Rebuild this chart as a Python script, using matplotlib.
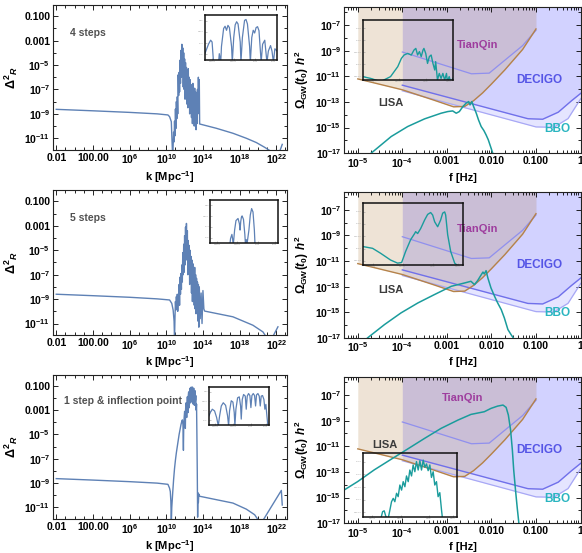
import numpy as np
import matplotlib.pyplot as plt
from matplotlib import ticker

plt.rcParams['font.family'] = ['Liberation Sans', 'DejaVu Sans']
plt.rcParams['mathtext.fontset'] = 'custom'
plt.rcParams['mathtext.rm'] = 'Liberation Sans:bold'
plt.rcParams['mathtext.bf'] = 'Liberation Sans:bold'
plt.rcParams['mathtext.it'] = 'Liberation Sans:bold:italic'
plt.rcParams['mathtext.default'] = 'rm'

BLUE = '#5E81B5'
TEAL = '#1A9C9C'

# ---------------- power spectra (log10 k, log10 P) ----------------
k1_log = [-2, 2, 6, 9, 10.18, 10.36, 10.55, 10.62, 10.70,
          10.80, 10.85, 10.90, 10.95, 11.00, 11.05, 11.10, 11.15, 11.20, 11.25,
          11.30, 11.35, 11.40, 11.45, 11.50, 11.55, 11.60, 11.65, 11.70, 11.75,
          11.80, 11.85, 11.90, 11.95, 12.00, 12.05, 12.10, 12.15, 12.20, 12.25,
          12.30, 12.35, 12.40, 12.45, 12.50, 12.55, 12.60, 12.65, 12.70, 12.75,
          12.80, 12.85, 12.90, 12.95, 13.00, 13.05, 13.10, 13.15, 13.20, 13.25,
          13.30, 13.35, 13.40, 13.45, 13.50, 13.55, 13.60, 13.64,
          15.45, 17.27, 18.73, 19.82, 20.73, 21.27, 21.5, 22.2, 22.36, 22.65]
P1_log = [-8.63, -8.75, -8.88, -9.0, -9.09, -9.23, -9.64, -11.1, -12.6,
          -10.5, -11.3, -9.6, -10.8, -8.6, -10.2, -8.0, -9.4, -7.6, -9.0,
          -5.8, -7.5, -5.6, -7.2, -4.6, -6.5, -3.8, -6.0, -3.3, -5.5,
          -3.6, -6.8, -4.0, -7.0, -4.5, -7.8, -4.8, -7.5, -5.2, -8.2,
          -5.5, -8.5, -5.3, -8.0, -6.0, -9.0, -6.2, -8.7, -6.6, -9.3,
          -6.8, -9.8, -6.5, -9.2, -7.0, -10.0, -6.9, -9.5, -7.2, -10.3,
          -7.5, -9.8, -7.0, -9.0, -6.0, -8.5, -6.2, -9.83,
          -10.18, -10.59, -11.0, -11.35, -11.74, -12.0, -13.0, -13.0, -12.1, -11.5]

k2_log = [-2, 2, 6, 9, 10.36, 10.6, 10.75, 10.85, 10.9,
          10.95, 11.0, 11.05, 11.1, 11.15, 11.2, 11.25, 11.3, 11.35, 11.4,
          11.45, 11.5, 11.55, 11.6, 11.65, 11.7, 11.75, 11.8, 11.85, 11.9,
          11.95, 12.0, 12.05, 12.1, 12.15, 12.2, 12.25, 12.3, 12.35, 12.4,
          12.45, 12.5, 12.55, 12.6, 12.65, 12.7, 12.75, 12.8, 12.85, 12.9,
          12.95, 13.0, 13.05, 13.1, 13.15, 13.2, 13.25, 13.3, 13.35, 13.4,
          13.45, 13.5, 13.55, 13.6, 13.7, 13.8, 13.9, 14.0, 14.1, 14.18,
          17.27, 19.45, 20.55, 20.9, 21.2, 21.5, 21.7, 22.18]
P2_log = [-8.6, -8.72, -8.85, -8.98, -9.07, -9.35, -9.9, -10.8, -12.3,
          -10.5, -9.2, -9.9, -8.8, -9.6, -8.6, -10.0, -8.9, -9.3, -7.8,
          -9.5, -7.2, -8.6, -6.9, -8.2, -6.2, -7.6, -5.2, -7.0, -4.5,
          -6.8, -3.8, -6.2, -3.1, -5.5, -2.8, -5.8, -3.4, -7.0, -4.2,
          -6.5, -4.6, -7.8, -5.0, -7.5, -5.5, -8.5, -5.8, -9.2, -6.1,
          -8.8, -6.6, -9.5, -6.4, -9.8, -7.0, -10.2, -7.3, -9.9, -7.6,
          -10.8, -7.8, -11.3, -8.0, -10.6, -8.5, -11.0, -8.3, -9.8, -9.98,
          -10.45, -11.14, -11.69, -12.1, -13.0, -13.0, -11.96, -11.27]

k3_log = [-2, 2, 6, 9, 10.18, 10.35, 10.44, 10.50, 10.55, 10.60, 10.70,
          10.80, 10.90, 11.00, 11.10, 11.20, 11.30, 11.40, 11.50, 11.60, 11.70,
          11.76, 11.82, 11.87, 11.90, 11.95, 12.00, 12.05, 12.08, 12.11, 12.15,
          12.20, 12.23, 12.26, 12.30, 12.34, 12.37, 12.40, 12.44, 12.48, 12.51,
          12.54, 12.58, 12.62, 12.65, 12.68, 12.72, 12.76, 12.79, 12.82, 12.86,
          12.90, 12.93, 12.96, 13.00, 13.04, 13.07, 13.10, 13.14, 13.18, 13.22,
          13.26, 13.30, 13.34, 13.38, 13.42, 13.46, 13.50, 13.55, 13.64,
          15.45, 17.27, 18.73, 19.64, 20.18, 20.4, 20.6, 22.55, 22.65]
P3_log = [-8.63, -8.75, -8.88, -9.0, -9.1, -9.4, -9.7, -10.5, -12.3, -11.0, -9.8,
          -8.7, -7.8, -7.1, -6.5, -6.0, -5.5, -5.0, -4.6, -4.2, -3.9,
          -3.8, -4.2, -6.3, -4.5, -3.6, -3.1, -3.4, -4.5, -2.9, -2.4,
          -2.6, -3.6, -2.2, -1.9, -2.2, -3.2, -1.8, -1.5, -2.0, -2.8,
          -1.5, -1.2, -1.6, -2.4, -1.3, -1.1, -1.5, -2.3, -1.3, -1.1,
          -1.6, -2.5, -1.4, -1.2, -1.7, -2.6, -1.5, -1.4, -2.2, -1.8,
          -3.0, -2.5, -5.0, -8.0, -11.8, -9.8, -10.6, -9.9, -10.08,
          -10.36, -10.64, -11.14, -11.6, -12.2, -13.0, -12.0, -9.6, -10.8]

# zoomed views of the peaks (insets)
i1_k_log = [12.00, 12.05, 12.08, 12.10, 12.12, 12.19, 12.20, 12.22, 12.23, 12.26,
            12.28, 12.30, 12.32, 12.34, 12.37, 12.38, 12.40, 12.42, 12.44, 12.46,
            12.49, 12.50, 12.52, 12.55, 12.57, 12.59, 12.62, 12.63, 12.65, 12.67,
            12.69, 12.71, 12.73, 12.75, 12.78, 12.80, 12.83, 12.86, 12.88, 12.91,
            12.93, 12.95, 12.97, 13.00]
i1_P_log = [-4.44, -3.60, -3.24, -3.40, -5.2, -5.2, -4.44, -5.2, -3.80, -2.20,
            -2.00, -2.36, -1.92, -2.12, -3.80, -5.2, -3.00, -1.88, -1.60, -1.80,
            -3.40, -5.2, -3.00, -1.48, -1.40, -1.80, -3.80, -5.2, -3.00, -2.36,
            -2.60, -2.12, -2.04, -2.40, -5.2, -3.60, -3.24, -5.2, -4.20, -3.72,
            -4.20, -5.2, -4.00, -4.20]

i2_k_log = [12.00, 12.29, 12.30, 12.32, 12.33, 12.34, 12.36, 12.38, 12.41, 12.43,
            12.44, 12.45, 12.46, 12.47, 12.49, 12.51, 12.52, 12.53, 12.54, 12.57,
            12.59, 12.61, 12.63, 12.65, 12.66, 13.00]
i2_P_log = [-5.2, -5.2, -4.60, -4.20, -4.60, -5.2, -3.80, -2.92, -2.72, -3.20,
            -3.80, -3.00, -2.60, -2.48, -2.80, -4.20, -5.2, -4.68, -5.2, -3.80,
            -2.40, -1.80, -2.12, -3.80, -5.2, -5.2]

i3_k_log = [12.000, 12.028, 12.056, 12.094, 12.128, 12.156, 12.178, 12.206, 12.239, 12.278,
            12.311, 12.328, 12.344, 12.372, 12.400, 12.422, 12.433, 12.450, 12.478, 12.506,
            12.528, 12.539, 12.556, 12.578, 12.606, 12.622, 12.639, 12.661, 12.683, 12.700,
            12.717, 12.739, 12.761, 12.778, 12.794, 12.817, 12.839, 12.856, 12.872, 12.894,
            12.917, 12.933, 12.950, 12.967, 12.983]
i3_P_log = [-4.04, -3.62, -3.34, -3.52, -4.21, -5.08, -4.04, -3.00, -2.66, -2.93,
            -4.04, -5.08, -3.52, -2.45, -2.59, -3.69, -5.08, -3.34, -2.14, -2.04,
            -3.00, -4.38, -2.31, -1.79, -1.96, -3.34, -1.96, -1.69, -1.90, -3.17,
            -1.90, -1.69, -1.90, -3.00, -1.83, -1.69, -1.96, -3.00, -1.96, -1.90,
            -2.31, -3.34, -2.83, -4.04, -5.08]

# ---------------- gravitational waves (log10 f, log10 Omega h^2) ----------------
gw1_f_log = [-4.70, -4.25, -3.88, -3.50, -3.13, -2.98, -2.87, -2.79, -2.72, -2.64,
             -2.57, -2.51, -2.48, -2.44, -2.40, -2.34, -2.29, -2.23, -2.17, -2.12,
             -2.07, -2.02, -1.97]
gw1_O_log = [-17.0, -15.70, -14.92, -14.32, -13.88, -13.75, -13.70, -13.88, -13.75, -13.36,
             -13.10, -12.97, -13.23, -12.97, -13.36, -13.88, -14.40, -14.92, -15.23, -15.57,
             -15.96, -16.48, -17.0]

gw2_f_log = [-4.78, -4.40, -4.03, -3.65, -3.28, -2.90, -2.60, -2.46, -2.38, -2.31,
             -2.25, -2.19, -2.16, -2.12, -2.08, -2.01, -1.93, -1.86, -1.78, -1.71,
             -1.63, -1.56, -1.50]
gw2_O_log = [-17.0, -15.96, -15.05, -14.27, -13.62, -12.97, -12.71, -12.58, -12.84, -12.53,
             -12.19, -11.86, -12.01, -11.75, -12.32, -13.10, -13.75, -14.27, -14.79, -15.44,
             -16.35, -16.74, -17.05]

gw3_f_log = [-5.30, -5.00, -4.63, -4.25, -3.88, -3.50, -3.13, -2.75, -2.46, -2.16,
             -2.01, -1.86, -1.74, -1.67, -1.62, -1.57, -1.53, -1.50, -1.46, -1.42, -1.38]
gw3_O_log = [-14.40, -13.75, -12.84, -12.01, -11.21, -10.38, -9.60, -8.95, -8.51, -8.30,
             -8.04, -7.86, -7.78, -7.96, -8.56, -9.73, -11.29, -12.84, -14.40, -15.83, -17.13]

# inset views of the GW peaks
g1_f_log = [-3.00, -2.91, -2.80, -2.69, -2.61, -2.57, -2.54, -2.50, -2.46, -2.43,
            -2.41, -2.39, -2.37, -2.35, -2.33, -2.32, -2.30, -2.28, -2.26, -2.24,
            -2.22, -2.20, -2.19, -2.17, -2.15, -2.13, -2.11, -2.09, -2.07, -2.06,
            -2.04, -2.02, -2.00]
g1_O_log = [-13.83, -13.92, -14.08, -13.83, -13.33, -12.92, -12.75, -12.67, -12.75, -12.50,
            -12.42, -12.75, -12.58, -12.83, -12.50, -12.42, -12.67, -13.17, -12.83, -12.75,
            -13.17, -13.50, -13.08, -14.00, -13.67, -13.92, -13.67, -14.00, -13.67, -14.08,
            -13.83, -14.17, -13.92]

g2_f_log = [-3.00, -2.90, -2.82, -2.72, -2.65, -2.61, -2.57, -2.52, -2.48, -2.47,
            -2.45, -2.42, -2.38, -2.35, -2.32, -2.30, -2.28, -2.25, -2.22, -2.20,
            -2.18, -2.17, -2.15, -2.12, -2.08, -2.05]
g2_O_log = [-13.10, -13.19, -13.43, -13.76, -13.91, -13.88, -13.34, -12.77, -12.47, -12.38,
            -12.47, -12.23, -11.81, -11.54, -11.45, -11.57, -11.90, -12.14, -11.81, -11.48,
            -11.42, -11.57, -12.53, -13.34, -13.91, -14.03]

g3_f_log = [-2.807, -2.789, -2.772, -2.754, -2.730, -2.712, -2.695, -2.677, -2.660, -2.642,
            -2.625, -2.607, -2.589, -2.572, -2.554, -2.537, -2.519, -2.502, -2.484, -2.467,
            -2.449, -2.432, -2.414, -2.396, -2.379, -2.361, -2.344, -2.326, -2.309, -2.291,
            -2.274, -2.256, -2.239, -2.221, -2.204, -2.186, -2.168, -2.158]
g3_O_log = [-14.08, -13.76, -13.72, -14.00, -14.08, -13.68, -13.29, -13.13, -13.29, -12.89,
            -13.05, -12.50, -12.74, -12.34, -12.58, -12.07, -12.34, -11.79, -12.07, -11.55,
            -11.87, -11.39, -11.79, -11.35, -11.79, -11.32, -11.66, -11.50, -11.82, -11.55,
            -12.14, -11.87, -12.50, -12.34, -13.05, -12.86, -13.68, -14.08]

# detector sensitivity curves (log10 f, log10 Omega h^2)
lisa_f = [-5.0, -4.0, -3.3, -2.85, -2.6, -2.4, -2.2, -2.0, -1.7, -1.3, -1.0]
lisa_O = [-11.2, -12.05, -12.85, -13.38, -13.35, -12.9, -12.3, -11.6, -10.5, -8.9, -7.3]
tq_f = [-4.0, -2.45, -2.05, -1.65, -1.3, -1.0]
tq_O = [-9.1, -10.8, -10.75, -9.6, -8.6, -7.4]
decigo_f = [-4.0, -1.18, -0.85, -0.5, -0.2, 0.05]
decigo_O = [-11.69, -14.31, -14.35, -13.8, -12.9, -12.2]
bbo_f = [-4.0, -1.0, -0.6, -0.28, 0.0, 0.05]
bbo_O = [-12.13, -14.95, -14.98, -14.3, -12.77, -12.6]

k_ticks = [-2, 2, 6, 10, 14, 18, 22]
k_labels = ['0.01', '100.00', '$10^{6}$', '$10^{10}$', '$10^{14}$', '$10^{18}$', '$10^{22}$']
p_ticks = [-1, -3, -5, -7, -9, -11]
p_labels = ['0.100', '0.001', '$10^{-5}$', '$10^{-7}$', '$10^{-9}$', '$10^{-11}$']
f_ticks = [-5, -4, -3, -2, -1, 0]
f_labels = ['$10^{-5}$', '$10^{-4}$', '0.001', '0.010', '0.100', '1']
o_ticks = [-7, -9, -11, -13, -15, -17]
o_labels = ['$10^{-7}$', '$10^{-9}$', '$10^{-11}$', '$10^{-13}$', '$10^{-15}$', '$10^{-17}$']

# tiny inset tick labels
ik_ticks = [12.1, 12.4, 12.7, 12.95]
ik_labels = ['1.2e12', '2.5e12', '5e12', '9e12']
ip_ticks = [-4.5, -3.5, -2.5, -1.5]
ip_labels = ['3e-5', '3e-4', '0.003', '0.03']
if_ticks = [-2.9, -2.6, -2.3, -2.05]
if_labels = ['0.0013', '0.0025', '0.005', '0.009']
io_ticks = [-13.8, -13.2, -12.6, -12.0, -11.4]
io_labels = ['1.6e-14', '6e-14', '2.5e-13', '1e-12', '4e-12']

spectra = [(k1_log, P1_log, '4 steps', -0.55, -2.34),
           (k2_log, P2_log, '5 steps', -0.55, -2.32),
           (k3_log, P3_log, '1 step & inflection point', -1.16, -2.26)]
spec_insets = [(i1_k_log, i1_P_log), (i2_k_log, i2_P_log), (i3_k_log, i3_P_log)]
gw = [(gw1_f_log, gw1_O_log), (gw2_f_log, gw2_O_log), (gw3_f_log, gw3_O_log)]
gw_insets = [(g1_f_log, g1_O_log), (g2_f_log, g2_O_log), (g3_f_log, g3_O_log)]
# label positions (log10 f, log10 Omega) for TianQin / LISA per row
tq_lab = [(-2.31, -8.54), (-2.31, -8.5), (-2.64, -7.26)]
lisa_lab = [(-4.25, -13.08), (-4.25, -13.23), (-4.40, -10.9)]

left_pos = [(0.091, 0.729, 0.402, 0.262), (0.091, 0.394, 0.402, 0.262), (0.091, 0.0615, 0.402, 0.261)]
right_pos = [(0.591, 0.723, 0.408, 0.264), (0.591, 0.389, 0.408, 0.264), (0.591, 0.054, 0.408, 0.264)]
left_in = [(0.352, 0.8915, 0.124, 0.0814), (0.361, 0.5606, 0.117, 0.0778), (0.359, 0.2315, 0.103, 0.0687)]
right_in = [(0.623, 0.8553, 0.155, 0.1085), (0.623, 0.5208, 0.172, 0.1116), (0.623, 0.0656, 0.163, 0.1146)]

p = lambda a: 10.0 ** np.asarray(a)


def frame(ax, lw=0.8):
    for s in ax.spines.values():
        s.set_linewidth(lw)
        s.set_color('#222222')
    ax.tick_params(which='both', direction='in', top=True, right=True, width=0.6)
    ax.tick_params(which='major', length=3.5, labelsize=7.5, pad=2)
    ax.tick_params(which='minor', length=2)


def inset_style(ax, xt, xl, yt, yl):
    ax.set_facecolor('none')
    ax.set_xticks(p(xt), xl)
    ax.set_yticks(p(yt), yl)
    ax.xaxis.set_minor_locator(ticker.NullLocator())
    ax.yaxis.set_minor_locator(ticker.NullLocator())
    for s in ax.spines.values():
        s.set_linewidth(1.1)
        s.set_color('#111111')
    ax.tick_params(which='both', direction='in', length=1.2, width=0.4,
                   labelsize=1.6, colors='#999999', pad=0.8)


fig = plt.figure(figsize=(5.82, 5.53), dpi=100)

for row in range(3):
    # ---- left: power spectrum ----
    kl, pl, txt, tx, ty = spectra[row]
    ax = fig.add_axes(left_pos[row])
    ax.plot(p(kl), p(pl), color=BLUE, lw=1.0)
    ax.set_xscale('log')
    ax.set_yscale('log')
    ax.set_xlim(10 ** -2.36, 10 ** 23.16)
    ax.set_ylim(10 ** -11.95, 10 ** -0.08)
    ax.set_xticks(p(k_ticks), k_labels, fontweight='bold')
    ax.set_yticks(p(p_ticks), p_labels, fontweight='bold')
    ax.xaxis.set_minor_locator(ticker.LogLocator(base=10, subs=(1.0,), numticks=60))
    ax.yaxis.set_minor_locator(ticker.LogLocator(base=10, subs=(1.0,), numticks=30))
    ax.xaxis.set_minor_formatter(ticker.NullFormatter())
    ax.yaxis.set_minor_formatter(ticker.NullFormatter())
    frame(ax)
    ax.set_xlabel('k [Mpc$^{-1}$]', fontsize=8, fontweight='bold', labelpad=2)
    ax.set_ylabel(r'$\Delta^{2}{}_{\mathit{R}}$', fontsize=9, labelpad=3)
    ax.text(10 ** tx, 10 ** ty, txt, fontsize=7.5, fontweight='bold', color='#505050',
            ha='left', va='center')

    ik, ip = spec_insets[row]
    axi = fig.add_axes(left_in[row])
    axi.plot(p(ik), p(ip), color=BLUE, lw=0.9)
    axi.set_xscale('log')
    axi.set_yscale('log')
    axi.set_xlim(10 ** 12, 10 ** 13)
    axi.set_ylim(10 ** -5, 10 ** -1)
    inset_style(axi, ik_ticks, ik_labels, ip_ticks, ip_labels)

    # ---- right: GW spectrum with detector curves ----
    ax = fig.add_axes(right_pos[row])
    ax.set_xscale('log')
    ax.set_yscale('log')
    ax.set_xlim(10 ** -5.31, 10 ** 0.02)
    ax.set_ylim(1e-17, 10 ** -5.6)
    top = ax.get_ylim()[1]
    ax.fill_between(p(bbo_f), p(bbo_O), top, color='#8080FF', alpha=0.2, lw=0)
    ax.fill_between(p(decigo_f), p(decigo_O), top, color='#8080FF', alpha=0.19, lw=0)
    ax.fill_between(p(tq_f), p(tq_O), top, color='#A096FF', alpha=0.12, lw=0)
    ax.fill_between(p(lisa_f), p(lisa_O), top, color='#C8A478', alpha=0.3, lw=0)
    ax.plot(p(bbo_f), p(bbo_O), color='#A8A8F5', lw=0.9)
    ax.plot(p(decigo_f), p(decigo_O), color='#7070EA', lw=1.0)
    ax.plot(p(tq_f), p(tq_O), color='#9090EE', lw=0.9)
    ax.plot(p(lisa_f), p(lisa_O), color='#B5824A', lw=1.0)

    gf, go = gw[row]
    ax.plot(p(gf), p(go), color=TEAL, lw=1.1)

    ax.set_xticks(p(f_ticks), f_labels, fontweight='bold')
    ax.set_yticks(p(o_ticks), o_labels, fontweight='bold')
    ax.xaxis.set_minor_locator(ticker.LogLocator(base=10, subs=np.arange(2, 10), numticks=20))
    ax.yaxis.set_minor_locator(ticker.LogLocator(base=10, subs=(1.0,), numticks=30))
    ax.xaxis.set_minor_formatter(ticker.NullFormatter())
    ax.yaxis.set_minor_formatter(ticker.NullFormatter())
    frame(ax)
    ax.set_xlabel('f [Hz]', fontsize=8, fontweight='bold', labelpad=2)
    ax.set_ylabel(r'$\Omega_{\mathrm{GW}}(\mathit{t_0})\ \mathit{h}^{2}$', fontsize=8.5, labelpad=3)

    ax.text(10 ** tq_lab[row][0], 10 ** tq_lab[row][1], 'TianQin', color='#9E3D9E',
            fontsize=8, fontweight='bold', ha='center', va='center')
    ax.text(10 ** -0.92, 10 ** -11.3, 'DECIGO', color='#5555E6',
            fontsize=8.5, fontweight='bold', ha='center', va='center')
    ax.text(10 ** lisa_lab[row][0], 10 ** lisa_lab[row][1], 'LISA', color='#3C3C3C',
            fontsize=8, fontweight='bold', ha='center', va='center')
    ax.text(10 ** -0.51, 10 ** -15.08, 'BBO', color='#2AB5C0',
            fontsize=8.5, fontweight='bold', ha='center', va='center')

    gif, gio = gw_insets[row]
    axi = fig.add_axes(right_in[row])
    axi.plot(p(gif), p(gio), color=TEAL, lw=1.0)
    axi.set_xscale('log')
    axi.set_yscale('log')
    axi.set_xlim(10 ** -3, 10 ** -2)
    axi.set_ylim(10 ** -14, 10 ** -11)
    inset_style(axi, if_ticks, if_labels, io_ticks, io_labels)

fig.savefig('out.png', dpi=100)
